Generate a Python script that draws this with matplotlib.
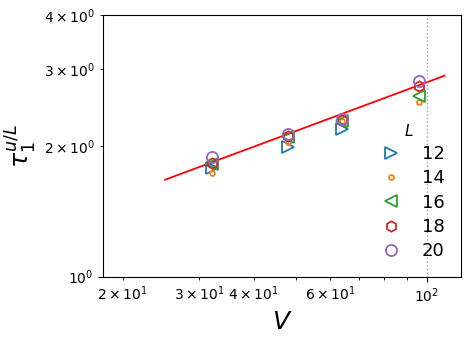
import matplotlib
matplotlib.use("Agg")
import matplotlib.pyplot as plt

V = [32, 48, 64, 96]
L_labels = ["12", "14", "16", "18", "20"]
tau_L12 = [1.78, 1.99, 2.18]
tau_L14 = [1.73, 2.04, 2.28, 2.52]
tau_L16 = [1.82, 2.09, 2.28, 2.61]
tau_L18 = [1.83, 2.11, 2.29, 2.75]
tau_L20 = [1.88, 2.13, 2.31, 2.82]
fit_V = [25, 110]
fit_tau = [1.67, 2.90]

series = [tau_L12, tau_L14, tau_L16, tau_L18, tau_L20]
markers = [">", "o", "<", "h", "o"]
msizes = [8, 3.5, 8, 7.5, 8]
colors = ["#1f77b4", "#ff7f0e", "#2ca02c", "#d62728", "#9467bd"]

fig = plt.figure(figsize=(4.71, 3.39), dpi=100)
ax = fig.add_axes([103/471, 1-276.5/339, (461-103)/471, (276.5-15)/339])

ax.plot(fit_V, fit_tau, color="red", lw=1.3)
for vals, m, ms, c, lab in zip(series, markers, msizes, colors, L_labels):
    ax.plot(V[:len(vals)], vals, linestyle="none", marker=m, markersize=ms,
            markerfacecolor="none", markeredgecolor=c, markeredgewidth=1.3, label=lab)

ax.axvline(100, color="gray", ls=":", lw=1, alpha=0.7)
ax.set_xscale("log")
ax.set_yscale("log")
ax.set_xlim(18, 120)
ax.set_ylim(1, 4)
ax.set_xlabel("$V$", fontsize=18)
ax.set_ylabel(r"$\tau_1^{u/L}$", fontsize=18)
ax.tick_params(which="both", labelsize=10)

leg = ax.legend(title="$L$", loc="lower right", frameon=False, fontsize=13,
                title_fontsize=11, handletextpad=0.7, labelspacing=0.35,
                bbox_to_anchor=(1.0, 0.0))
fig.savefig("out.png", dpi=100)
